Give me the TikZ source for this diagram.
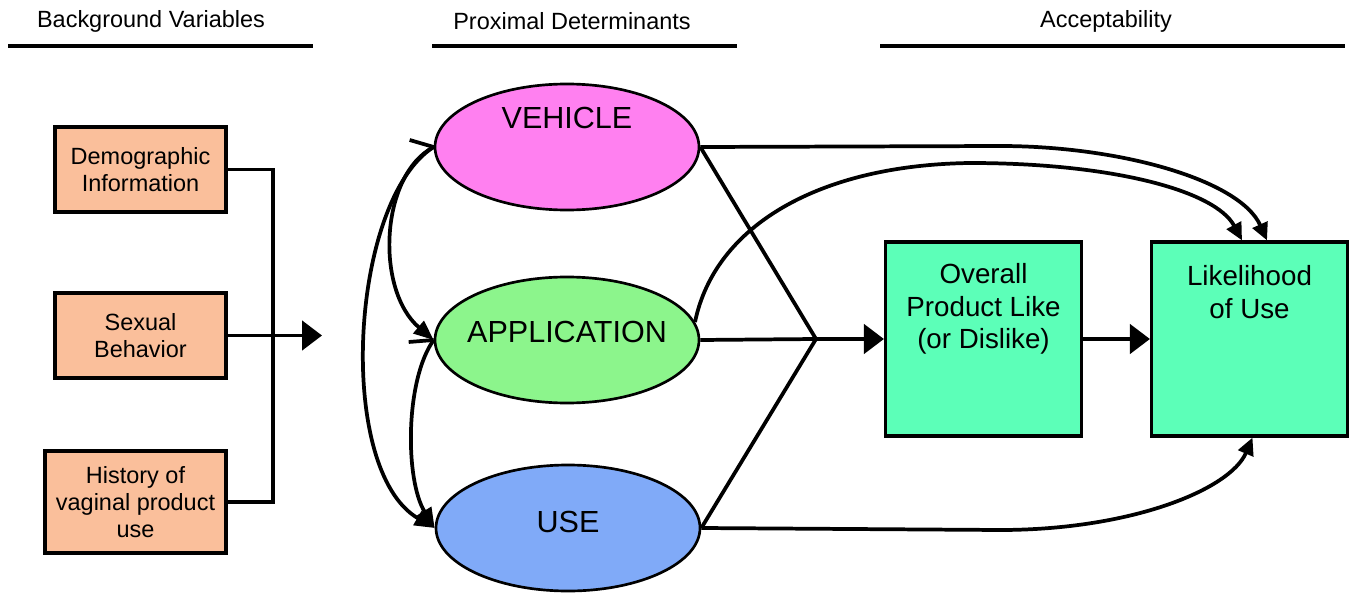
\documentclass[tikz,border=0pt]{standalone}
\usepackage{fontspec}
\setmainfont{Liberation Sans}
\usetikzlibrary{arrows.meta,shapes.geometric,calc}
\definecolor{peach}{RGB}{250,191,155}
\definecolor{vehcol}{RGB}{255,128,240}
\definecolor{appcol}{RGB}{140,245,140}
\definecolor{usecol}{RGB}{128,170,248}
\definecolor{boxcol}{RGB}{92,255,184}
\begin{document}
\begin{tikzpicture}[x=0.75pt,y=-0.75pt,
  hdr/.style={font=\fontsize{17.6}{20}\selectfont, inner sep=0},
  hline/.style={line width=3pt},
  bgbox/.style={draw, line width=2.3pt, fill=peach, minimum width=128.25pt, minimum height=63.75pt, inner sep=0, align=center, font=\fontsize{17.6}{20.25}\selectfont},
  pd/.style={ellipse, draw, line width=2pt, minimum width=198pt, minimum height=94.5pt, inner sep=0},
  pdtxt/.style={font=\fontsize{22.9}{26}\selectfont, inner sep=0},
  acbox/.style={draw, line width=2.4pt, fill=boxcol, minimum width=147pt, minimum height=145.5pt, inner sep=0},
  actxt/.style={font=\fontsize{20.8}{24.4}\selectfont, align=center, inner sep=0},
  conn/.style={line width=2.8pt},
  bigarrow/.style={conn, -{Triangle[length=15pt,width=22pt]}},
  curvearrow/.style={conn, -{Triangle[length=13pt,width=12pt]}},
  sidearrow/.style={conn, -{Triangle[length=15pt,width=12pt]}},
]
\useasboundingbox (0,0) rectangle (1359,595);

% headers
\node[hdr] (hBG) at (151,21) {Background Variables};
\node[hdr] (hPD) at (572,21) {Proximal Determinants};
\node[hdr] (hAC) at (1106,21) {Acceptability};
\draw[hline] (8,46) -- (313,46);
\draw[hline] (432,46) -- (737,46);
\draw[hline] (880,46) -- (1345,46);

% background boxes
\node[bgbox] (demo) at (140.5,169.5) {Demographic\\Information};
\node[bgbox] (sex) at (140.5,335.5) {Sexual\\Behavior};
\node[bgbox, minimum width=135.75pt, minimum height=76.5pt] (hist) at (135.5,502) {History of\\vaginal product\\use};

% proximal ellipses
\node[pd, fill=vehcol] (veh) at (567,147) {};
\node[pd, fill=appcol] (app) at (567,340) {};
\node[pd, fill=usecol] (use) at (568,528) {};
\node[pdtxt] (vehT) at (567,118) {VEHICLE};
\node[pdtxt] (appT) at (567,332) {APPLICATION};
\node[pdtxt] (useT) at (568,522) {USE};

% acceptability boxes
\node[acbox] (ovr) at (983.5,339) {};
\node[acbox] (lik) at (1249.5,339) {};
\node[actxt] (ovrT) at (983.5,309) {Overall\\Product Like\\(or Dislike)};
\node[actxt] (likT) at (1249.5,292) {Likelihood\\of Use};

% bracket from background variables
\coordinate (bk) at (273,337);
\coordinate (bktip) at (322,335.5);
\draw[conn] (demo.east) -| (bk) |- (hist.east);
\draw[bigarrow] (sex.east) -- (bktip);

% left correlation curves
\draw[sidearrow] (veh.west) .. controls (380,175) and (375,290) .. (app.west);
\draw[sidearrow] (veh.west) .. controls (350,200) and (335,470) .. (use.west);
\draw[sidearrow] (app.west) .. controls (405,380) and (405,480) .. (use.west);
\draw[conn] (veh.west) -- ++(-24,-7);
\draw[conn] (app.west) -- ++(-25,2);

% converging lines
\coordinate (J) at (816,339);
\draw[conn] (veh.east) -- (J) -- (use.east);
\draw[conn] (app.east) -- (J);
\draw[bigarrow] (J) -- (ovr.west);
\draw[bigarrow] (ovr.east) -- (lik.west);

% curves to likelihood
\coordinate (likA) at ($(lik.north)+(17.5,0)$);
\coordinate (likB) at ($(lik.north)+(-7.5,0)$);
\coordinate (likC) at ($(lik.south)+(3,0)$);
\draw[curvearrow] (veh.east) -- (1000,146) .. controls (1120,146) and (1240,180) .. (likA);
\draw[curvearrow] (app.8) .. controls (715,225) and (820,165) .. (970,163) .. controls (1110,163) and (1215,190) .. (likB);
\draw[curvearrow] (use.east) -- (1000,530) .. controls (1130,530) and (1230,490) .. (likC);
\end{tikzpicture}
\end{document}
